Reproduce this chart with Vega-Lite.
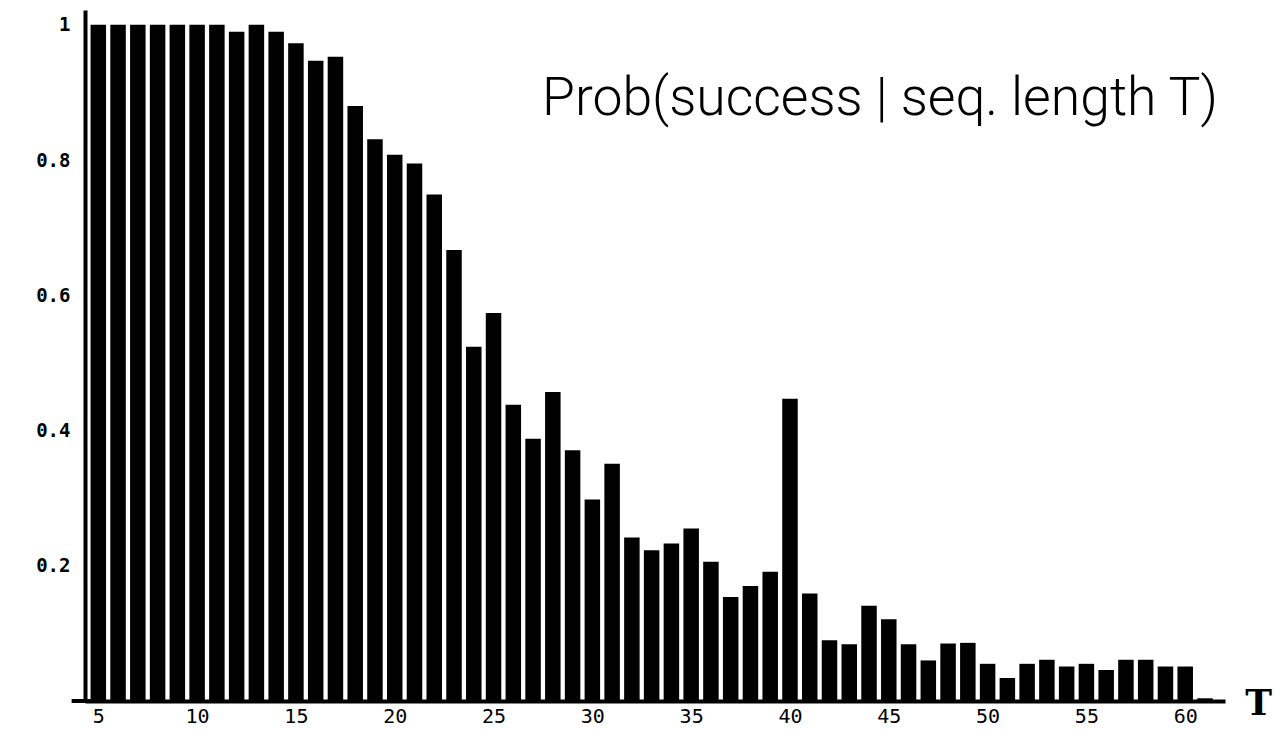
{
  "$schema": "https://vega.github.io/schema/vega-lite/v6.json",
  "width": 1140,
  "height": 691,
  "autosize": {"type": "none"},
  "padding": {"left": 85, "top": 10, "right": 61, "bottom": 28},
  "background": "white",
  "config": {"view": {"stroke": null}},
  "data": {"values": [
    {"T": 5, "p": 1.0}, {"T": 6, "p": 1.0}, {"T": 7, "p": 1.0}, {"T": 8, "p": 1.0},
    {"T": 9, "p": 1.0}, {"T": 10, "p": 1.0}, {"T": 11, "p": 1.0}, {"T": 12, "p": 0.99},
    {"T": 13, "p": 1.0}, {"T": 14, "p": 0.99}, {"T": 15, "p": 0.973}, {"T": 16, "p": 0.947},
    {"T": 17, "p": 0.953}, {"T": 18, "p": 0.88}, {"T": 19, "p": 0.831}, {"T": 20, "p": 0.808},
    {"T": 21, "p": 0.795}, {"T": 22, "p": 0.749}, {"T": 23, "p": 0.667}, {"T": 24, "p": 0.524},
    {"T": 25, "p": 0.574}, {"T": 26, "p": 0.438}, {"T": 27, "p": 0.388}, {"T": 28, "p": 0.457},
    {"T": 29, "p": 0.371}, {"T": 30, "p": 0.298}, {"T": 31, "p": 0.351}, {"T": 32, "p": 0.242},
    {"T": 33, "p": 0.223}, {"T": 34, "p": 0.233}, {"T": 35, "p": 0.255}, {"T": 36, "p": 0.206},
    {"T": 37, "p": 0.154}, {"T": 38, "p": 0.17}, {"T": 39, "p": 0.191}, {"T": 40, "p": 0.447},
    {"T": 41, "p": 0.159}, {"T": 42, "p": 0.09}, {"T": 43, "p": 0.084}, {"T": 44, "p": 0.141},
    {"T": 45, "p": 0.121}, {"T": 46, "p": 0.084}, {"T": 47, "p": 0.06}, {"T": 48, "p": 0.085},
    {"T": 49, "p": 0.086}, {"T": 50, "p": 0.055}, {"T": 51, "p": 0.034}, {"T": 52, "p": 0.055},
    {"T": 53, "p": 0.061}, {"T": 54, "p": 0.051}, {"T": 55, "p": 0.055}, {"T": 56, "p": 0.046},
    {"T": 57, "p": 0.061}, {"T": 58, "p": 0.061}, {"T": 59, "p": 0.051}, {"T": 60, "p": 0.051},
    {"T": 61, "p": 0.004}
  ]},
  "layer": [
    {
      "mark": {"type": "bar", "width": 15.5, "color": "black"},
      "encoding": {
        "x": {
          "field": "T", "type": "quantitative",
          "scale": {"domain": [4.58, 61.76], "nice": false, "zero": false},
          "axis": {
            "title": null, "values": [5, 10, 15, 20, 25, 30, 35, 40, 45, 50, 55, 60],
            "ticks": false, "grid": false, "domainColor": "black", "domainWidth": 4,
            "labelFont": "DejaVu Sans Mono", "labelFontSize": 20, "labelColor": "black",
            "labelPadding": 5, "labelFlush": false
          }
        },
        "y": {
          "field": "p", "type": "quantitative",
          "scale": {"domain": [0, 1.022], "nice": false},
          "axis": {
            "title": null, "values": [0.2, 0.4, 0.6, 0.8, 1], "format": "~g",
            "ticks": false, "grid": false, "domainColor": "black", "domainWidth": 4,
            "labelFont": "DejaVu Sans Mono", "labelFontWeight": "bold", "labelFontSize": 19,
            "labelColor": "black", "labelPadding": 15
          }
        }
      }
    },
    {
      "data": {"values": [{}]},
      "mark": {"type": "rule", "color": "black", "strokeWidth": 4},
      "encoding": {
        "x": {"datum": 3.65, "type": "quantitative"},
        "x2": {"datum": 4.6},
        "y": {"datum": 0, "type": "quantitative"}
      }
    },
    {
      "data": {"values": [{}]},
      "mark": {"type": "text", "text": "Prob(success | seq. length T)", "font": "Roboto", "fontWeight": 300, "fontSize": 53.5, "align": "left", "baseline": "alphabetic", "color": "black"},
      "encoding": {
        "x": {"datum": 27.45, "type": "quantitative"},
        "y": {"datum": 0.867, "type": "quantitative"}
      }
    },
    {
      "data": {"values": [{}]},
      "mark": {"type": "text", "text": "T", "font": "DejaVu Serif", "fontWeight": "bold", "fontSize": 36, "align": "center", "baseline": "middle", "color": "black"},
      "encoding": {
        "x": {"datum": 63.72, "type": "quantitative"},
        "y": {"datum": -0.005, "type": "quantitative"}
      }
    }
  ]
}
